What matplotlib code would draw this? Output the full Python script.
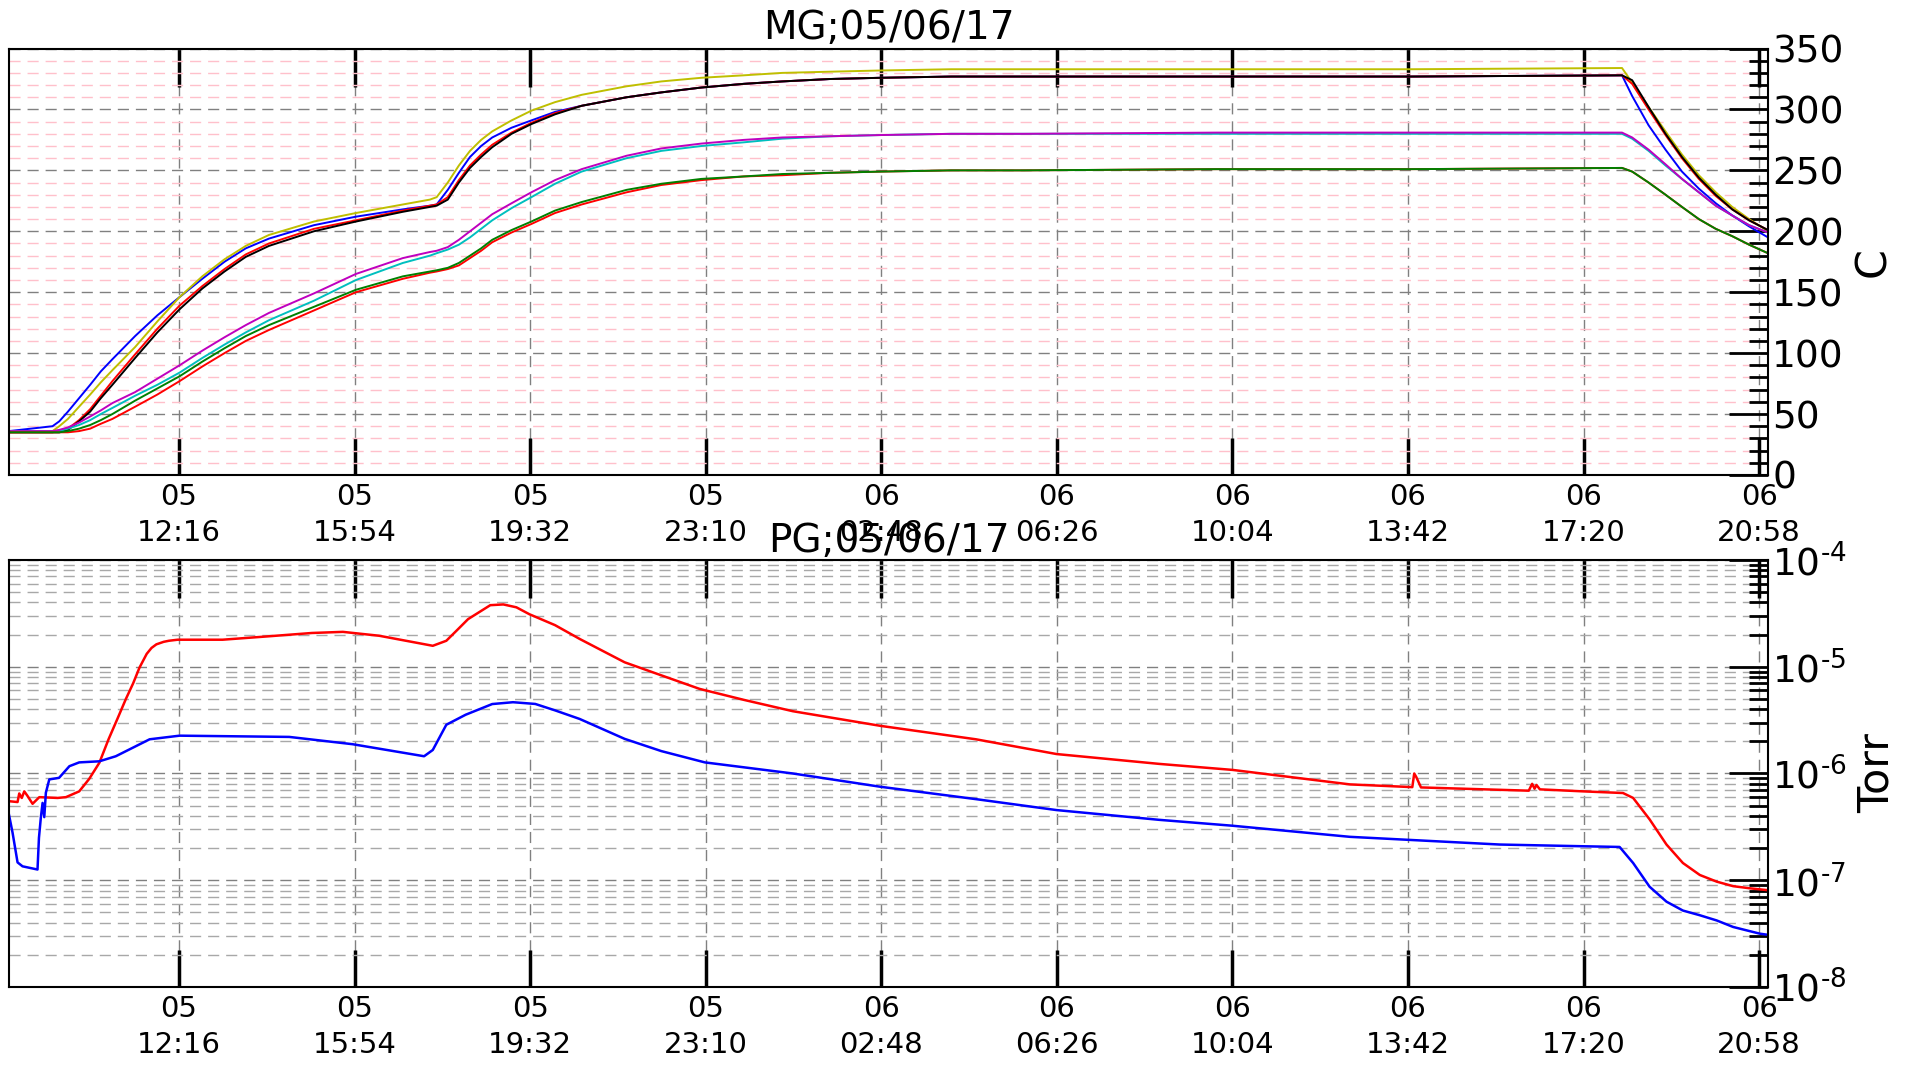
import math
import datetime as dt
import matplotlib
matplotlib.use('Agg')
import matplotlib.pyplot as plt
import matplotlib.dates as mdates
import matplotlib.ticker as mticker

start = dt.datetime(2017, 6, 5, 8, 45)
end_hours = 36.40

# --- temperatures (C), hours since start ---
t_temp = [0.0, 0.9, 1.04, 1.22, 1.45, 1.68, 1.9, 2.14, 2.61, 3.07, 3.53, 4.0, 4.46, 4.9, 5.38,
          6.31, 7.18, 8.15, 8.71, 8.85, 9.08, 9.31, 9.54, 9.77, 10.0, 10.4, 10.81, 11.3, 11.85,
          12.78, 13.5, 14.33, 15.2, 16.0, 17.0, 18.05, 19.5, 21.0, 25.0, 29.0, 33.38, 33.59,
          33.93, 34.28, 34.62, 34.97, 35.32, 35.66, 36.01, 36.40]
temp_blue = [36, 40, 44, 52, 63, 74, 85, 95, 114, 131, 146, 161, 175, 186, 194, 205, 212, 218,
             221, 222, 234, 248, 261, 270, 277, 285, 291, 298, 303, 310, 314, 318, 321, 323, 325,
             326, 327, 327, 327, 327, 328, 311, 287, 267, 249, 235, 223, 213, 204, 195]
temp_yellow = [36, 36, 40, 46, 56, 66, 76, 86, 105, 126, 146, 163, 177, 188, 197, 208, 215, 222,
               226, 228, 240, 254, 266, 275, 282, 291, 299, 306, 312, 319, 323, 326, 328, 330,
               331, 332, 333, 333, 333, 333, 334, 322, 302, 282, 263, 246, 232, 220, 210, 200]
temp_red_hi = [35, 35, 36, 38, 45, 54, 65, 77, 99, 120, 139, 155, 169, 181, 190, 202, 209, 217,
               221, 222, 228, 242, 254, 263, 271, 281, 289, 297, 303, 310, 314, 318, 321, 323,
               325, 326, 327, 327, 327, 327, 328, 321, 300, 279, 260, 243, 229, 218, 209, 201]
temp_black = [35, 35, 35, 37, 44, 52, 63, 74, 96, 117, 136, 153, 167, 179, 188, 200, 208, 216,
              220, 221, 226, 240, 252, 261, 269, 280, 288, 296, 303, 310, 314, 318, 321, 323, 325,
              326, 327, 327, 327, 327, 328, 324, 302, 280, 261, 244, 230, 218, 209, 201]
temp_cyan = [36, 36, 36, 38, 41, 45, 50, 55, 65, 74, 84, 96, 107, 117, 127, 143, 160, 174, 180,
             182, 185, 189, 195, 202, 209, 219, 228, 239, 249, 260, 266, 270, 273, 276, 278, 279,
             280, 280, 280, 280, 280, 276, 266, 254, 243, 232, 221, 213, 205, 199]
temp_magenta = [36, 36, 37, 39, 43, 48, 53, 59, 68, 79, 90, 102, 113, 123, 133, 149, 165, 178,
                183, 184, 187, 193, 200, 207, 214, 223, 232, 242, 251, 262, 268, 272, 275, 277,
                278, 279, 280, 280, 281, 281, 281, 277, 267, 255, 243, 232, 221, 213, 205, 199]
temp_red_lo = [35, 35, 35, 35, 36, 38, 42, 46, 56, 66, 77, 89, 100, 110, 119, 135, 150, 161, 166,
               167, 169, 172, 178, 184, 191, 199, 206, 215, 222, 232, 238, 242, 245, 246, 248,
               249, 250, 250, 251, 251, 252, 249, 240, 230, 220, 210, 202, 196, 189, 182]
temp_green = [35, 35, 35, 36, 38, 41, 45, 50, 61, 71, 81, 93, 104, 114, 123, 138, 152, 163, 167,
              168, 170, 174, 180, 186, 193, 201, 208, 217, 224, 234, 239, 243, 245, 247, 248, 249,
              250, 250, 251, 251, 252, 249, 240, 230, 220, 210, 202, 196, 189, 182]

# --- pressures (Torr) ---
t_red = [0.0, 0.177, 0.212, 0.265, 0.316, 0.379, 0.488, 0.627, 1.006, 1.178, 1.453, 1.66, 1.87,
         2.062, 2.25, 2.42, 2.57, 2.70, 2.85, 2.95, 3.05, 3.2, 3.31, 3.49, 4.42, 5.33, 6.27,
         6.91, 7.66, 8.77, 9.05, 9.25, 9.50, 9.96, 10.23, 10.5, 10.77, 11.3, 11.81, 12.74, 13.5,
         14.29, 15.2, 16.22, 18.04, 20.01, 21.68, 23.80, 25.32, 27.75, 29.04, 29.08, 29.12,
         29.22, 31.45, 31.52, 31.57, 31.61, 31.68, 32.57, 33.40, 33.61, 33.95, 34.30, 34.64,
         34.99, 35.34, 35.68, 36.03, 36.36]
p_red = [5.5e-7, 5.4e-7, 6.5e-7, 5.9e-7, 6.8e-7, 6.2e-7, 5.2e-7, 6.0e-7, 5.9e-7, 6.0e-7, 6.8e-7,
         8.9e-7, 1.26e-6, 2.1e-6, 3.3e-6, 5.0e-6, 7.0e-6, 9.8e-6, 1.32e-5, 1.5e-5, 1.62e-5,
         1.71e-5, 1.75e-5, 1.79e-5, 1.79e-5, 1.92e-5, 2.07e-5, 2.12e-5, 1.95e-5, 1.57e-5,
         1.75e-5, 2.15e-5, 2.79e-5, 3.77e-5, 3.83e-5, 3.6e-5, 3.10e-5, 2.45e-5, 1.82e-5, 1.10e-5,
         8.3e-6, 6.2e-6, 4.9e-6, 3.83e-6, 2.79e-6, 2.09e-6, 1.52e-6, 1.23e-6, 1.08e-6, 7.9e-7,
         7.45e-7, 1.0e-6, 9.3e-7, 7.4e-7, 6.9e-7, 8.0e-7, 7.2e-7, 7.8e-7, 7.1e-7, 6.8e-7,
         6.56e-7, 5.9e-7, 3.72e-7, 2.16e-7, 1.45e-7, 1.12e-7, 9.7e-8, 8.8e-8, 8.4e-8, 8.1e-8]
t_blue = [0.0, 0.073, 0.177, 0.28, 0.59, 0.62, 0.66, 0.695, 0.73, 0.763, 0.834, 1.036, 1.25, 1.453,
          1.87, 2.21, 2.91, 3.53, 5.80, 7.11, 8.59, 8.77, 9.05, 9.45, 10.0, 10.43, 10.89, 11.3,
          11.81, 12.74, 13.5, 14.40, 16.22, 18.04, 20.01, 21.68, 23.80, 25.32, 27.75, 30.85,
          32.6, 33.33, 33.61, 33.95, 34.30, 34.64, 34.99, 35.34, 35.68, 36.23, 36.36]
p_blue = [4.1e-7, 2.8e-7, 1.47e-7, 1.35e-7, 1.26e-7, 2.5e-7, 3.9e-7, 5.3e-7, 3.9e-7, 6.6e-7,
          8.8e-7, 9.1e-7, 1.17e-6, 1.27e-6, 1.3e-6, 1.45e-6, 2.09e-6, 2.26e-6, 2.2e-6, 1.88e-6,
          1.45e-6, 1.66e-6, 2.86e-6, 3.55e-6, 4.47e-6, 4.65e-6, 4.48e-6, 3.9e-6, 3.24e-6, 2.11e-6,
          1.62e-6, 1.27e-6, 1.0e-6, 7.5e-7, 5.75e-7, 4.54e-7, 3.68e-7, 3.24e-7, 2.55e-7, 2.16e-7,
          2.08e-7, 2.05e-7, 1.45e-7, 8.7e-8, 6.3e-8, 5.2e-8, 4.7e-8, 4.2e-8, 3.65e-8, 3.16e-8,
          3.1e-8]

tick_times = [dt.datetime(2017, 6, 5, 12, 16) + dt.timedelta(minutes=218 * i) for i in range(10)]


def to_dates(hours):
    return [start + dt.timedelta(hours=h) for h in hours]


# 10^-N with a plain hyphen in the exponent
def log_label(val, pos):
    e = int(round(math.log10(val)))
    return r'$10^{\text{%d}}$' % e


def style_axis(ax):
    ax.set_xlim(start, start + dt.timedelta(hours=end_hours))
    ax.xaxis.set_major_locator(mticker.FixedLocator(mdates.date2num(tick_times)))
    ax.xaxis.set_major_formatter(mdates.DateFormatter('%d\n%H:%M'))
    ax.yaxis.tick_right()
    ax.yaxis.set_label_position('right')
    ax.tick_params(axis='x', which='major', direction='in', length=27, width=2.5,
                   top=True, bottom=True, labelsize=21, pad=6)
    ax.tick_params(axis='x', which='minor', length=0)
    ax.tick_params(axis='y', which='major', direction='in', length=28, width=2,
                   left=False, right=True, labelsize=27, pad=3)
    ax.tick_params(axis='y', which='minor', direction='in', length=14, width=2,
                   left=False, right=True)
    for lab in ax.get_xticklabels():
        lab.set_linespacing(1.35)
    ax.grid(True, axis='x', which='major', color='#808080', linestyle=(0, (8, 5)), linewidth=1)
    for sp in ax.spines.values():
        sp.set_linewidth(1.5)


fig = plt.figure(figsize=(19.14, 10.69), dpi=100)
ax1 = fig.add_axes([0.0047, 0.5557, 0.919, 0.3989])
ax2 = fig.add_axes([0.0047, 0.0767, 0.919, 0.3995])

# temperatures
td = to_dates(t_temp)
ax1.plot(td, temp_blue, color='b', lw=1.4)
ax1.plot(td, temp_yellow, color='y', lw=1.4)
ax1.plot(td, temp_red_hi, color='r', lw=1.4)
ax1.plot(td, temp_black, color='k', lw=1.4)
ax1.plot(td, temp_cyan, color='c', lw=1.4)
ax1.plot(td, temp_magenta, color='m', lw=1.4)
ax1.plot(td, temp_red_lo, color='r', lw=1.4)
ax1.plot(td, temp_green, color='g', lw=1.4)
ax1.set_ylim(0, 350)
ax1.yaxis.set_major_locator(mticker.MultipleLocator(50))
ax1.yaxis.set_minor_locator(mticker.MultipleLocator(10))
ax1.grid(True, axis='y', which='minor', color='#ffc0cb', linestyle=(0, (8, 5)), linewidth=1)
ax1.grid(True, axis='y', which='major', color='#808080', linestyle=(0, (8, 5)), linewidth=1)
ax1.set_title('MG;05/06/17', fontsize=28, pad=7)
ax1.set_ylabel('C', fontsize=31, labelpad=6)
style_axis(ax1)

# pressures
ax2.plot(to_dates(t_red), p_red, color='r', lw=1.8)
ax2.plot(to_dates(t_blue), p_blue, color='b', lw=1.8)
ax2.set_yscale('log')
ax2.set_ylim(1e-8, 1e-4)
ax2.yaxis.set_major_locator(mticker.LogLocator(base=10))
ax2.yaxis.set_minor_locator(mticker.LogLocator(base=10, subs=range(2, 10)))
ax2.yaxis.set_minor_formatter(mticker.NullFormatter())
ax2.yaxis.set_major_formatter(mticker.FuncFormatter(log_label))
ax2.grid(True, axis='y', which='minor', color='#a8a8a8', linestyle=(0, (8, 5)), linewidth=1)
ax2.grid(True, axis='y', which='major', color='#808080', linestyle=(0, (8, 5)), linewidth=1)
ax2.set_title('PG;05/06/17', fontsize=28, pad=6)
ax2.set_ylabel('Torr', fontsize=31, labelpad=6)
style_axis(ax2)

fig.savefig('out.png', dpi=100)
